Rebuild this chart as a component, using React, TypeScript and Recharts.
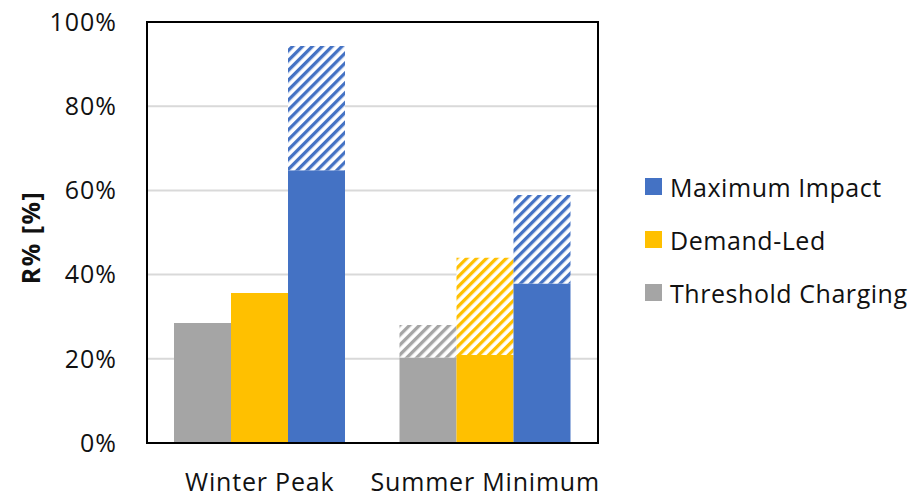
import React from 'react';
import { BarChart, Bar, XAxis, YAxis, CartesianGrid, Legend, ReferenceArea } from 'recharts';

const categories = ['Winter Peak', 'Summer Minimum'];
const thresholdBase = [28.5, 20.3];
const thresholdTotal = [28.5, 28.0];
const demandBase = [35.6, 20.9];
const demandTotal = [35.6, 44.0];
const maxBase = [64.8, 37.9];
const maxTotal = [94.3, 58.9];
const yTicks = [0, 20, 40, 60, 80, 100];

const seriesNames = ['Maximum Impact', 'Demand-Led', 'Threshold Charging'];
const BLUE = '#4472C4';
const YELLOW = '#FFC000';
const GRAY = '#A5A5A5';
const seriesColors = [BLUE, YELLOW, GRAY];

const data = categories.map((c, i) => ({
  name: c,
  tBase: thresholdBase[i],
  tExtra: +(thresholdTotal[i] - thresholdBase[i]).toFixed(2),
  dBase: demandBase[i],
  dExtra: +(demandTotal[i] - demandBase[i]).toFixed(2),
  mBase: maxBase[i],
  mExtra: +(maxTotal[i] - maxBase[i]).toFixed(2),
}));

const FONT = '"Open Sans", "Noto Sans", sans-serif';

const LegendContent = () => (
  <div style={{ fontFamily: FONT, fontSize: 25, letterSpacing: 0.55, color: '#111' }}>
    {seriesNames.map((n, i) => (
      <div key={n} style={{ display: 'flex', alignItems: 'center', height: 53, whiteSpace: 'nowrap' }}>
        <div style={{ width: 17, height: 17, flexShrink: 0, background: seriesColors[i], marginRight: 8 }} />
        <span>{n}</span>
      </div>
    ))}
  </div>
);

const YLabel = (props: any) => {
  const vb = props.viewBox || { x: 0, y: 22, width: 147, height: 421 };
  const cx = vb.x + 30;
  const cy = vb.y + vb.height / 2 + 5;
  return (
    <text
      x={cx}
      y={cy}
      transform={`rotate(-90, ${cx}, ${cy})`}
      textAnchor="middle"
      dominantBaseline="central"
      fontFamily={FONT}
      fontWeight="bold"
      fontSize={25}
      letterSpacing={1.5}
      fill="#111"
    >
      R% [%]
    </text>
  );
};

export default function App() {
  return (
    <div style={{ position: 'absolute', left: 0, top: 0, width: 913, height: 500, background: '#fff', overflow: 'hidden' }}>
      <BarChart
        width={913}
        height={500}
        data={data}
        margin={{ top: 22, right: 315, left: 0, bottom: 0 }}
        barCategoryGap={27}
        barGap={0}
      >
        <defs>
          <pattern id="hatchGray" patternUnits="userSpaceOnUse" width="7" height="7" patternTransform="rotate(45)">
            <rect width="7" height="7" fill="#fff" />
            <rect width="3.3" height="7" fill={GRAY} />
          </pattern>
          <pattern id="hatchYellow" patternUnits="userSpaceOnUse" width="7" height="7" patternTransform="rotate(45)">
            <rect width="7" height="7" fill="#fff" />
            <rect width="3.3" height="7" fill={YELLOW} />
          </pattern>
          <pattern id="hatchBlue" patternUnits="userSpaceOnUse" width="7" height="7" patternTransform="rotate(45)">
            <rect width="7" height="7" fill="#fff" />
            <rect width="3.3" height="7" fill={BLUE} />
          </pattern>
        </defs>
        <CartesianGrid vertical={false} stroke="#D9D9D9" strokeWidth={2} />
        <XAxis
          dataKey="name"
          height={57}
          tickLine={false}
          axisLine={{ stroke: '#000', strokeWidth: 2 }}
          tickSize={0}
          tickMargin={30}
          tick={{ fontFamily: FONT, fontSize: 25, letterSpacing: 0.8, fill: '#111' }}
          interval={0}
        />
        <YAxis
          width={147}
          domain={[0, 100]}
          ticks={yTicks}
          tickFormatter={(v: number) => `${v}%`}
          tickLine={false}
          axisLine={{ stroke: '#000', strokeWidth: 2 }}
          tickSize={0}
          tickMargin={30}
          tick={{ fontFamily: FONT, fontSize: 25, letterSpacing: 1, fill: '#111' }}
          label={{ content: YLabel }}
        />
        <Bar dataKey="tBase" stackId="t" fill={GRAY} isAnimationActive={false} />
        <Bar dataKey="tExtra" stackId="t" fill="url(#hatchGray)" isAnimationActive={false} />
        <Bar dataKey="dBase" stackId="d" fill={YELLOW} isAnimationActive={false} />
        <Bar dataKey="dExtra" stackId="d" fill="url(#hatchYellow)" isAnimationActive={false} />
        <Bar dataKey="mBase" stackId="m" fill={BLUE} isAnimationActive={false} />
        <Bar dataKey="mExtra" stackId="m" fill="url(#hatchBlue)" isAnimationActive={false} />
        <ReferenceArea y1={0} y2={100} fill="none" stroke="#000" strokeWidth={2} />
        <Legend
          layout="vertical"
          align="center"
          verticalAlign="middle"
          content={<LegendContent />}
          wrapperStyle={{ left: 645, top: 160, width: 268 }}
        />
      </BarChart>
    </div>
  );
}
